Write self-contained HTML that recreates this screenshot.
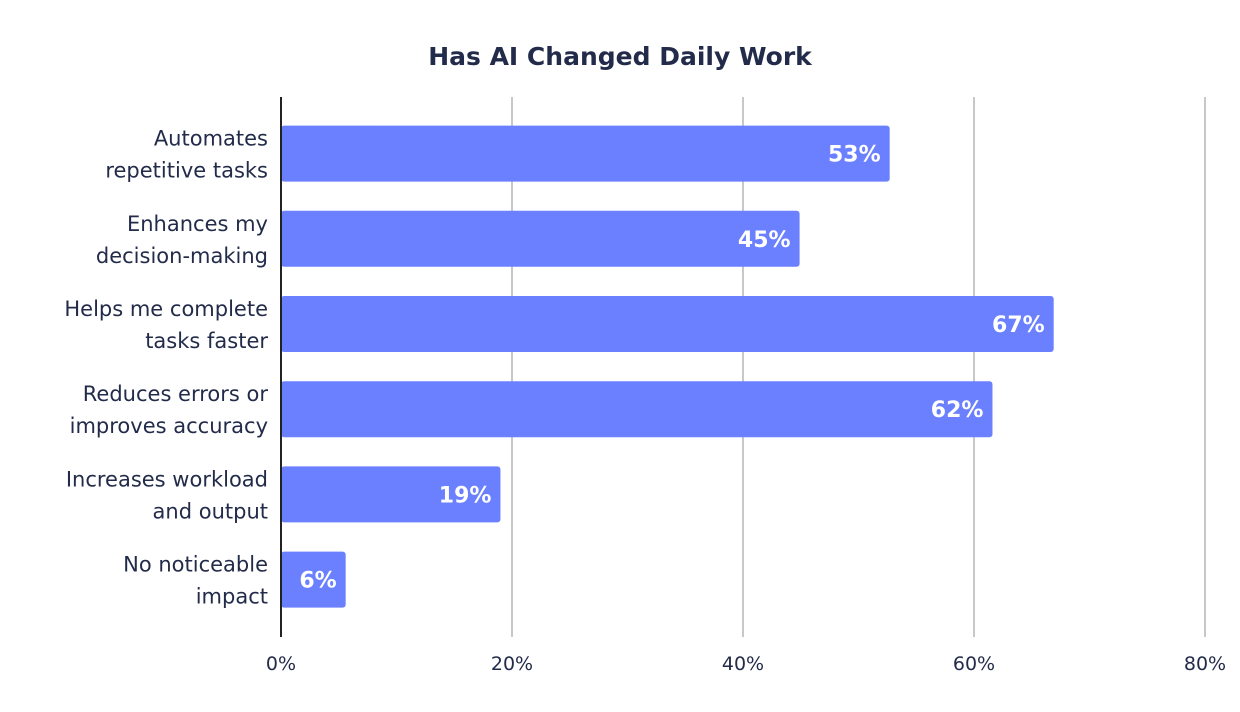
<!DOCTYPE html>
<html><head><meta charset="utf-8">
<style>
html,body{margin:0;padding:0;background:#fff;}
svg{display:block;font-family:"DejaVu Sans","Liberation Sans",sans-serif;}
</style></head>
<body>
<svg id="chart" width="1240" height="712" viewBox="0 0 1240 712">
<text x="620" y="65" text-anchor="middle" font-size="25" font-weight="bold" fill="#232b4a">Has AI Changed Daily Work</text>
<g id="grid"></g>
<g id="bars"></g>
<g id="ylabels"></g>
<g id="xticks"></g>
<line x1="281" y1="97" x2="281" y2="637" stroke="#222" stroke-width="2"/>
</svg>
<script>
const categories = [["Automates","repetitive tasks"],["Enhances my","decision-making"],["Helps me complete","tasks faster"],["Reduces errors or","improves accuracy"],["Increases workload","and output"],["No noticeable","impact"]];
const values = [52.7, 44.9, 66.9, 61.6, 19.0, 5.6];
const valueLabels = ["53%","45%","67%","62%","19%","6%"];
const tickValues = [0,20,40,60,80];
const tickLabels = ["0%","20%","40%","60%","80%"];

const NS="http://www.w3.org/2000/svg";
const x0=281, x1=1205, xMax=80;
const xs=v=>x0+(x1-x0)*v/xMax;
const yTop=111, band=85.2, barH=56;
const yc=i=>yTop+band*(i+0.5);
function mk(tag,attrs,parent){const e=document.createElementNS(NS,tag);for(const k in attrs)e.setAttribute(k,attrs[k]);parent.appendChild(e);return e;}
const grid=document.getElementById('grid'),bars=document.getElementById('bars'),yl=document.getElementById('ylabels'),xt=document.getElementById('xticks');
tickValues.forEach((t,i)=>{
  if(t>0){const l=mk('line',{x1:xs(t),x2:xs(t),y1:97,y2:637,stroke:'#c8c8c8','stroke-width':2},grid);
  
  }
  const tx=mk('text',{x:xs(t),y:670,'text-anchor':'middle','font-size':19,fill:'#232b4a'},xt);
  tx.textContent=tickLabels[i];
  
  
});
values.forEach((v,i)=>{
  const c=yc(i);
  const r=mk('rect',{x:x0,y:c-barH/2,width:xs(v)-x0,height:barH,rx:3,fill:'#6b80ff'},bars);
  
  
  const vt=mk('text',{x:xs(v)-9,y:c+8,'text-anchor':'end','font-size':22,'font-weight':'bold',fill:'#fff'},bars);
  vt.textContent=valueLabels[i];
  
  
  categories[i].forEach((line,j)=>{
    const t=mk('text',{x:268,y:c-8+j*32,'text-anchor':'end','font-size':21,fill:'#232b4a'},yl);
    t.textContent=line;
    
    
  });
});
</script>
</body></html>
